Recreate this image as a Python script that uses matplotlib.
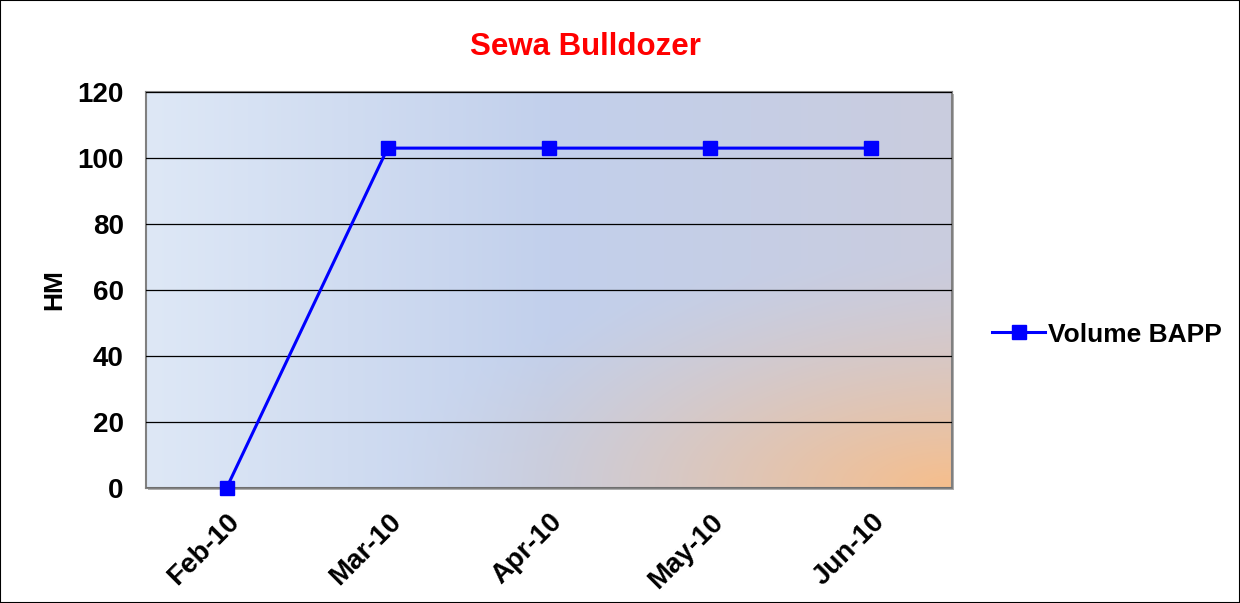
import numpy as np
import matplotlib
matplotlib.use('Agg')
import matplotlib.pyplot as plt
from matplotlib.patches import Rectangle

plt.rcParams['font.family'] = ['Liberation Sans', 'DejaVu Sans']
plt.rcParams['font.weight'] = 'bold'

# Chart data
months = ['Feb-10', 'Mar-10', 'Apr-10', 'May-10', 'Jun-10']
volume_bapp = [0, 103, 103, 103, 103]
y_ticks = [0, 20, 40, 60, 80, 100, 120]

fig = plt.figure(figsize=(12.4, 6.03), dpi=100, facecolor='white')
ax = fig.add_axes([0.1177, 0.1907, 0.65, 0.6567])

# Gradient background: light blue on the left, orange glow in bottom-right
nx, ny = 300, 150
gx = np.linspace(0, 1, nx)
gy = np.linspace(1, 0, ny)
X, Y = np.meshgrid(gx, gy)
left_blue = np.array([222, 232, 246]) / 255
mid_blue = np.array([194, 208, 236]) / 255
right_grey = np.array([202, 204, 222]) / 255
orange = np.array([246, 190, 140]) / 255
t = np.clip(X / 0.5, 0, 1)[..., None]
base = left_blue * (1 - t) + mid_blue * t
t2 = np.clip((X - 0.5) / 0.5, 0, 1)[..., None]
base = base * (1 - t2) + right_grey * t2
d = np.sqrt((1 - X) ** 2 + (Y * 1.2) ** 2)
w = (np.clip(1 - d / 0.7, 0, 1) ** 1.4)[..., None]
img = base * (1 - w) + orange * w
ax.imshow(img, extent=[0, 1, 0, 1], transform=ax.transAxes, aspect='auto',
          zorder=0, interpolation='bilinear')

x = np.arange(len(months))
ax.plot(x, volume_bapp, color='#0000ff', linewidth=2.2, marker='s',
        markersize=10.5, label='Volume BAPP', zorder=3, clip_on=False)

ax.set_xlim(-0.5, len(months) - 0.5)
ax.set_ylim(0, 120)
ax.set_yticks(y_ticks)
ax.set_xticks(x)
ax.set_xticklabels(months, rotation=45, ha='right', rotation_mode='anchor')
ax.tick_params(axis='both', length=0, labelsize=20)
ax.tick_params(axis='y', pad=16)
ax.tick_params(axis='x', pad=15)
ax.grid(axis='y', color='black', linewidth=0.9)
ax.set_axisbelow(False)
for gl in ax.get_ygridlines():
    gl.set_zorder(1)
for s in ax.spines.values():
    s.set_color('#808080')
    s.set_linewidth(1.5)
    s.set_zorder(2)

# simple shadow on the plot frame
shadow = Rectangle((0.1177 + 0.002, 0.1907 - 0.004), 0.65, 0.6567,
                   transform=fig.transFigure, facecolor='#b0b0b0',
                   edgecolor='none', zorder=-1)
fig.patches.append(shadow)

ax.set_ylabel('HM', fontsize=19, fontweight='bold', labelpad=8)

fig.text(0.472, 0.922, 'Sewa Bulldozer', color='red', fontsize=22.5,
         fontweight='bold', ha='center', va='center')

fig.legend(loc='center left', bbox_to_anchor=(0.781, 0.445), frameon=False,
           fontsize=19, handlelength=2.0, handletextpad=0.1)

fig.patches.append(Rectangle((0, 0), 1, 1, transform=fig.transFigure,
                             fill=False, edgecolor='black', linewidth=1.5))

fig.savefig('out.png', dpi=100)
